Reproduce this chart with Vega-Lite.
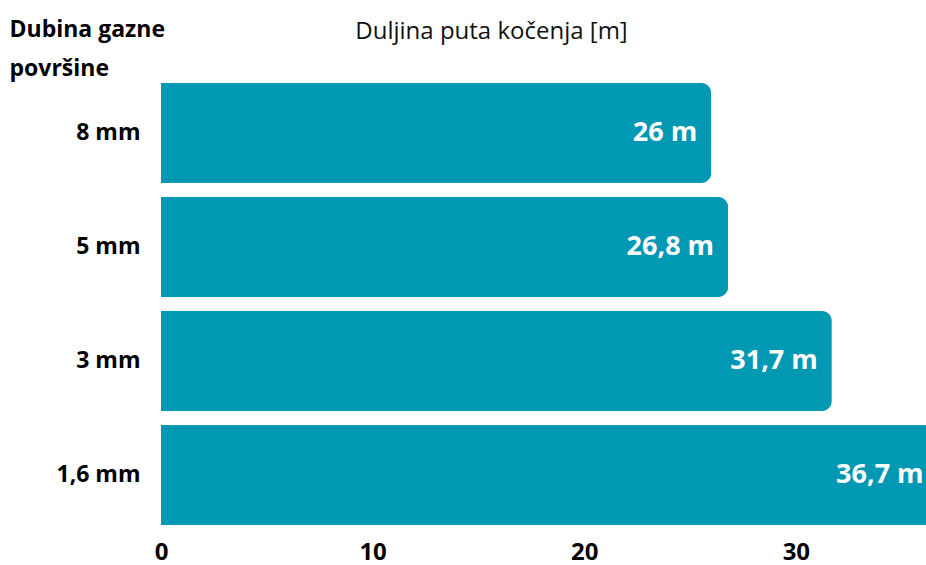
{
  "$schema": "https://vega.github.io/schema/vega-lite/v6.json",
  "width": 765,
  "height": 456,
  "autosize": {"type": "none"},
  "padding": {"left": 161, "top": 76, "right": 0, "bottom": 33},
  "background": "white",
  "config": {"view": {"stroke": null}, "font": "Open Sans"},
  "data": {
    "values": [
      {"dubina": "8 mm", "duljina": 26, "oznaka": "26 m"},
      {"dubina": "5 mm", "duljina": 26.8, "oznaka": "26,8 m"},
      {"dubina": "3 mm", "duljina": 31.7, "oznaka": "31,7 m"},
      {"dubina": "1,6 mm", "duljina": 36.7, "oznaka": "36,7 m"}
    ]
  },
  "encoding": {
    "y": {
      "field": "dubina",
      "type": "nominal",
      "sort": ["8 mm", "5 mm", "3 mm", "1,6 mm"],
      "scale": {"paddingInner": 0.1228, "paddingOuter": 0.0614},
      "axis": {
        "title": ["Dubina gazne", "površine"],
        "titleAngle": 0,
        "titleAlign": "left",
        "titleBaseline": "alphabetic",
        "titleX": -152,
        "titleY": -40,
        "titleLineHeight": 39,
        "titleFont": "Open Sans",
        "titleFontSize": 23,
        "titleFontWeight": "bold",
        "titleColor": "#000000",
        "labelFont": "Open Sans",
        "labelFontSize": 23,
        "labelFontWeight": "bold",
        "labelColor": "#000000",
        "labelPadding": 21,
        "ticks": false,
        "domain": false
      }
    },
    "x": {
      "field": "duljina",
      "type": "quantitative",
      "scale": {"domain": [0, 36.15], "nice": false, "zero": true},
      "axis": {
        "title": "Duljina puta kočenja [m]",
        "titleX": 330,
        "titleY": -494,
        "titleAlign": "center",
        "titleBaseline": "alphabetic",
        "titleFont": "Open Sans",
        "titleFontSize": 24,
        "titleFontWeight": "normal",
        "titleColor": "#111111",
        "values": [0, 10, 20, 30],
        "labelFont": "Open Sans",
        "labelFontSize": 24,
        "labelFontWeight": "bold",
        "labelColor": "#000000",
        "labelPadding": 8,
        "labelFlush": false,
        "ticks": false,
        "domain": false,
        "grid": false
      }
    }
  },
  "layer": [
    {
      "mark": {"type": "bar", "color": "#0098B3", "cornerRadiusEnd": 10}
    },
    {
      "mark": {
        "type": "text",
        "align": "right",
        "baseline": "middle",
        "dx": -14,
        "color": "white",
        "font": "Open Sans",
        "fontSize": 27,
        "fontWeight": "bold"
      },
      "encoding": {"text": {"field": "oznaka"}}
    }
  ]
}
